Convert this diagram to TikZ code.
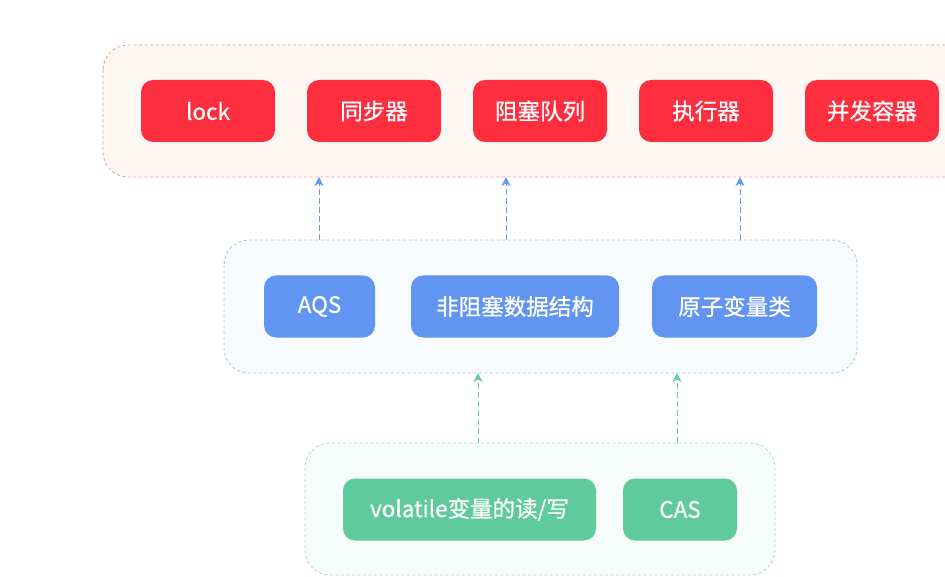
\documentclass[tikz,border=0pt]{standalone}
\usepackage{fontspec}
\setmainfont{Noto Sans CJK SC}
\newfontfamily\boxfont{Noto Sans CJK SC}[FakeBold=0.7]
\usetikzlibrary{arrows.meta}
\definecolor{redbox}{HTML}{FE2E3E}
\definecolor{bluebox}{HTML}{6195F1}
\definecolor{greenbox}{HTML}{5FCB9D}
\definecolor{redfill}{HTML}{FDF7F4}
\definecolor{redline}{HTML}{EE9CA3}
\definecolor{bluefill}{HTML}{F7FBFD}
\definecolor{blueline}{HTML}{A6C2EE}
\definecolor{greenfill}{HTML}{F6FCF9}
\definecolor{greenline}{HTML}{A3DCC2}
\definecolor{bluearrow}{HTML}{6A97E8}
\definecolor{greenarrow}{HTML}{6ACBA5}
\tikzset{
  box/.style={rounded corners=12pt, inner sep=0pt, text=white,
    font=\boxfont\fontsize{22.5}{26}\selectfont, minimum height=62pt},
  redb/.style={box, fill=redbox, minimum width=134pt},
  blueb/.style={box, fill=bluebox},
  greenb/.style={box, fill=greenbox},
  container/.style={rounded corners=25pt, dashed, dash pattern=on 3pt off 2.5pt, line width=0.8pt},
  barrow/.style={draw=bluearrow, dashed, dash pattern=on 6pt off 3pt, line width=1pt, -{Stealth[length=9pt,width=9pt,inset=2.5pt]}},
  garrow/.style={draw=greenarrow, dashed, dash pattern=on 6pt off 3pt, line width=1pt, -{Stealth[length=9pt,width=9pt,inset=2.5pt]}}
}
\begin{document}
\begin{tikzpicture}[x=1pt,y=-1pt]
\useasboundingbox (0,0) rectangle (945,577);
\clip (0,0) rectangle (945,577);
\fill[white] (0,0) rectangle (945,577);
% containers
\draw[container, draw=redline, fill=redfill] (103,45) rectangle (990,177);
\draw[container, draw=blueline, fill=bluefill] (224,240) rectangle (857,373);
\draw[container, draw=greenline, fill=greenfill] (305,443) rectangle (775,575);
% top row
\node[redb] (lock) at (208,111) {lock};
\node[redb] (sync) at (374,111) {同步器};
\node[redb] (queue) at (540,111) {阻塞队列};
\node[redb] (exec) at (706,111) {执行器};
\node[redb] (conc) at (872,111) {并发容器};
% middle row
\node[blueb, minimum width=111pt] (aqs) at (319.5,306.5) {AQS};
\node[blueb, minimum width=208pt] (nb) at (515,306.5) {非阻塞数据结构};
\node[blueb, minimum width=165pt] (atom) at (734.5,306.5) {原子变量类};
% bottom row
\node[greenb, minimum width=253pt] (vol) at (469.5,509.5) {volatile变量的读/写};
\node[greenb, minimum width=114pt] (cas) at (680,509.5) {CAS};
% anchor coordinates
\coordinate (t1) at (319,177); \coordinate (m1) at (319,240);
\coordinate (t2) at (506,177); \coordinate (m2) at (506,240);
\coordinate (t3) at (740,177); \coordinate (m3) at (740,240);
\coordinate (mb1) at (478,373); \coordinate (b1) at (478,443);
\coordinate (mb2) at (677,373); \coordinate (b2) at (677,443);
\draw[barrow] (m1) -- (t1);
\draw[barrow] (m2) -- (t2);
\draw[barrow] (m3) -- (t3);
\draw[garrow] (b1) -- (mb1);
\draw[garrow] (b2) -- (mb2);
\end{tikzpicture}
\end{document}
